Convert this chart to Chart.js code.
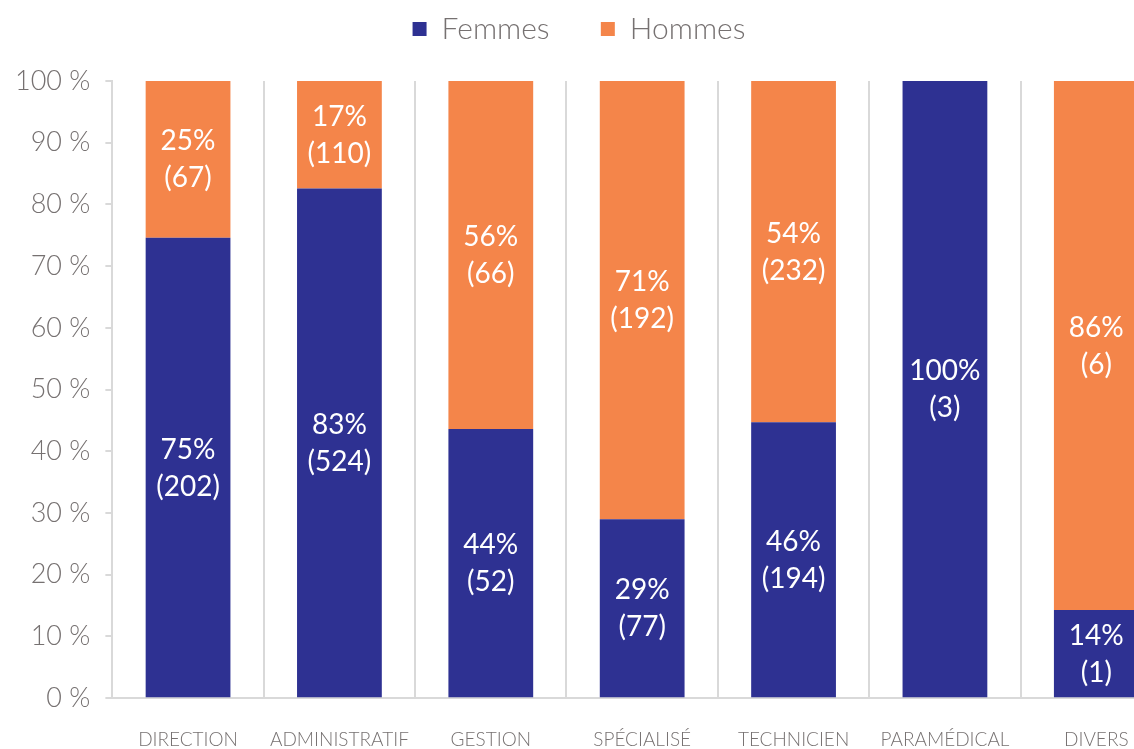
<!DOCTYPE html>
<html>
<head>
<meta charset="utf-8">
<script src="https://cdn.jsdelivr.net/npm/chart.js@4"></script>
<style>
html,body{margin:0;padding:0;overflow:hidden;background:#fff;}
#wrap{width:1172px;height:781px;position:relative;}
</style>
</head>
<body>
<div id="wrap"><canvas id="c"></canvas></div>
<script>
const categories = ["DIRECTION","ADMINISTRATIF","GESTION","SPÉCIALISÉ","TECHNICIEN","PARAMÉDICAL","DIVERS"];
const femmesShare = [74.6, 82.6, 43.6, 29.0, 44.7, 100, 14.3];
const hommesShare = [25.4, 17.4, 56.4, 71.0, 55.3, 0, 85.7];
const femmesPctLabel = [75, 83, 44, 29, 46, 100, 14];
const hommesPctLabel = [25, 17, 56, 71, 54, 0, 86];
const femmesCount = [202, 524, 52, 77, 194, 3, 1];
const hommesCount = [67, 110, 66, 192, 232, 0, 6];
const yTicks = [0,10,20,30,40,50,60,70,80,90,100];

const FONT = "Lato, 'Source Sans Pro', 'Open Sans', sans-serif";
const GRAY = '#767171';
const GRID = '#d9d9d9';

const labelsPlugin = {
  id: 'inlabels',
  afterDatasetsDraw(chart) {
    const ctx = chart.ctx;
    const pct = [femmesPctLabel, hommesPctLabel];
    const cnt = [femmesCount, hommesCount];
    chart.data.datasets.forEach((ds, di) => {
      const meta = chart.getDatasetMeta(di);
      meta.data.forEach((el, i) => {
        if (!ds.data[i]) return;
        const cx = el.x;
        const cy = (el.y + el.base) / 2;
        ctx.save();
        ctx.fillStyle = '#ffffff';
        ctx.font = "400 28px " + FONT;
        ctx.textAlign = 'center';
        ctx.textBaseline = 'middle';
        ctx.fillText(pct[di][i] + '%', cx, cy - 18);
        ctx.fillText('(' + cnt[di][i] + ')', cx, cy + 19);
        ctx.restore();
      });
    });
  }
};

const legendSpacing = {
  id: 'legendSpacing',
  beforeInit(chart) {
    const lg = chart.legend;
    const origFit = lg.fit;
    lg.fit = function () {
      origFit.call(this);
      this.height += 27;
    };
  },
  afterLayout(chart) {
    chart.legend.left -= 7;
    chart.legend.right -= 7;
  }
};

new Chart(document.getElementById('c'), {
  type: 'bar',
  data: {
    labels: categories,
    datasets: [
      { label: 'Femmes', data: femmesShare, backgroundColor: '#2e3192', categoryPercentage: 1, barPercentage: 0.56 },
      { label: 'Hommes', data: hommesShare, backgroundColor: '#f4854a', categoryPercentage: 1, barPercentage: 0.56 }
    ]
  },
  options: {
    responsive: true,
    maintainAspectRatio: false,
    animation: false,
    layout: { padding: { top: 4, left: 0, right: 0, bottom: 0 } },
    plugins: {
      legend: {
        position: 'top',
        labels: {
          boxWidth: 14, boxHeight: 14, padding: 10,
          color: GRAY,
          font: { family: FONT, size: 30, weight: '300' },
          generateLabels(chart) {
            const items = Chart.defaults.plugins.legend.labels.generateLabels(chart);
            if (items.length) items[0].text = items[0].text + '\u2003\u2002\u2009';
            return items;
          }
        }
      },
      tooltip: { enabled: false }
    },
    scales: {
      x: {
        stacked: true,
        grid: { display: true, offset: true, color: GRID, lineWidth: 2, drawTicks: false },
        border: { display: true, color: GRID, width: 2 },
        ticks: { color: GRAY, padding: 30, font: { family: FONT, size: 19, weight: '300' }, maxRotation: 0, autoSkip: false }
      },
      y: {
        stacked: true,
        min: 0, max: 100,
        afterBuildTicks(axis) { axis.ticks = yTicks.map(v => ({ value: v })); },
        grid: { display: true, drawOnChartArea: false, color: GRID, lineWidth: 2, tickLength: 7 },
        border: { display: true, color: GRID, width: 2 },
        ticks: { color: GRAY, padding: 15, font: { family: FONT, size: 27, weight: '300' }, callback: v => v + ' %' }
      }
    }
  },
  plugins: [labelsPlugin, legendSpacing]
});
</script>
</body>
</html>
